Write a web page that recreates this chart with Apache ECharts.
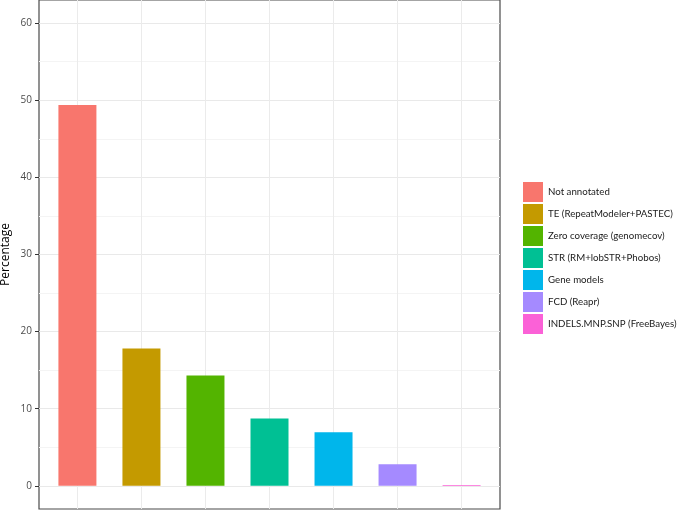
<!DOCTYPE html>
<html>
<head>
<meta charset="utf-8">
<script src="https://cdn.jsdelivr.net/npm/echarts@6/dist/echarts.min.js"></script>
<style>
  html, body { margin: 0; padding: 0; background: #fff; }
  #main { width: 678px; height: 510px; }
</style>
</head>
<body>
<div id="main"></div>
<script>
// categories and values
var categories = [
  "Not annotated",
  "TE (RepeatModeler+PASTEC)",
  "Zero coverage (genomecov)",
  "STR (RM+lobSTR+Phobos)",
  "Gene models",
  "FCD (Reapr)",
  "INDELS.MNP.SNP (FreeBayes)"
];
var percentages = [49.4, 17.8, 14.3, 8.75, 6.95, 2.8, 0.1];
var barColors = ["#F8766D", "#C49A00", "#53B400", "#00C094", "#00B6EB", "#A58AFF", "#FB61D7"];

var yLabels = [0, 10, 20, 30, 40, 50, 60];
var yMinor = [5, 15, 25, 35, 45, 55];
var xTicks = [1, 2, 3, 4, 5, 6, 7];

var series = [];
for (var i = 0; i < categories.length; i++) {
  series.push({
    name: categories[i],
    type: "bar",
    stack: "all",
    barWidth: 38,
    yAxisIndex: 0,
    data: [[xTicks[i], percentages[i]]],
    itemStyle: { color: barColors[i] }
  });
}

var font = "Open Sans";
var chart = echarts.init(document.getElementById("main"));
chart.setOption({
  animation: false,
  grid: {
    left: 39,
    right: 178,
    top: 0,
    bottom: 1,
    outerBoundsMode: "none",
    containLabel: false,
    show: true,
    borderColor: "#4a4a4a",
    borderWidth: 1.2,
    backgroundColor: "#fff"
  },
  legend: {
    orient: "vertical",
    left: 518,
    top: 177,
    itemWidth: 20,
    itemHeight: 20,
    itemGap: 2,
    icon: "rect",
    data: categories,
    textStyle: { fontFamily: "Lato", fontSize: 9.7, color: "#1a1a1a" }
  },
  xAxis: {
    type: "value",
    min: 0.4,
    max: 7.6,
    axisLine: { show: false },
    axisTick: { show: false, customValues: xTicks },
    axisLabel: { show: false },
    splitLine: { show: true, lineStyle: { color: "#ebebeb", width: 1 } }
  },
  yAxis: [
    {
      // major grid lines
      type: "value", position: "left", min: -3, max: 63,
      axisLine: { show: false },
      axisTick: { show: false, customValues: yLabels },
      axisLabel: { show: false },
      splitLine: { show: true, lineStyle: { color: "#e9e9e9", width: 1 } }
    },
    {
      // minor grid lines
      type: "value", position: "left", min: -3, max: 63,
      axisLine: { show: false },
      axisTick: { show: false, customValues: yMinor },
      axisLabel: { show: false },
      splitLine: { show: true, lineStyle: { color: "#f4f4f4", width: 1 } }
    },
    {
      // ticks, labels and title
      type: "value", position: "left", min: -3, max: 63,
      name: "Percentage",
      nameLocation: "middle",
      nameGap: 27,
      nameMoveOverlap: false,
      nameTextStyle: { fontFamily: font, fontSize: 12, color: "#000" },
      axisLine: { show: false },
      axisTick: { show: true, length: 4, customValues: yLabels, lineStyle: { color: "#333" } },
      axisLabel: { customValues: yLabels, margin: 7, fontFamily: font, fontSize: 10, color: "#4d4d4d" },
      splitLine: { show: false }
    }
  ],
  series: series
});
</script>
</body>
</html>
